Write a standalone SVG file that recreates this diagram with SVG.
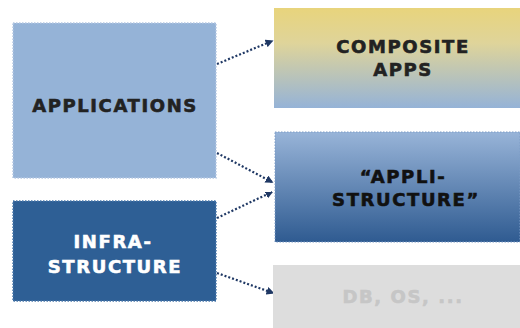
<svg xmlns="http://www.w3.org/2000/svg" width="520" height="328" viewBox="0 0 520 328">
<style>
.lbl{font-family:"DejaVu Sans","Liberation Sans",sans-serif;font-weight:bold;font-size:18px;letter-spacing:1.6px;text-anchor:middle;stroke-width:0.6px}
.dark{fill:#222222;stroke:#222222}
.white{fill:#ffffff;stroke:#ffffff}
.conn{stroke:#1f3864;stroke-width:2.2;stroke-dasharray:2 2;fill:none;marker-end:url(#ah)}
</style>
<defs>
<marker id="ah" viewBox="0 0 10 10" refX="8" refY="5" markerWidth="8" markerHeight="8" orient="auto" markerUnits="userSpaceOnUse">
<path d="M0,0 L10,5 L0,10 z" fill="#1f3864"/>
</marker>
<linearGradient id="gComp" x1="0" y1="0" x2="0" y2="1">
<stop offset="0" stop-color="#e8d47c"/>
<stop offset="0.35" stop-color="#dfd49a"/>
<stop offset="1" stop-color="#95b3d7"/>
</linearGradient>
<linearGradient id="gAppli" x1="0" y1="0" x2="0" y2="1">
<stop offset="0" stop-color="#98b4d8"/>
<stop offset="1" stop-color="#2f5b91"/>
</linearGradient>
</defs>
<rect width="520" height="328" fill="#ffffff"/>
<g id="connectors">
<path class="conn" d="M217,64 L272,41"/>
<path class="conn" d="M217,153 L272,182"/>
<path class="conn" d="M217,218 L272,192"/>
<path class="conn" d="M217,273 L273,293"/>
</g>
<g id="applications">
<rect x="13" y="23" width="203" height="155" fill="#95b3d7" stroke="#b4c8e2" stroke-width="1.5" stroke-dasharray="1.5 1.5"/>
<text class="lbl dark" x="115" y="112">APPLICATIONS</text>
</g>
<g id="infrastructure">
<rect x="13" y="201" width="203" height="100" fill="#2e5f95" stroke="#4a78aa" stroke-width="1.5" stroke-dasharray="1.5 1.5"/>
<text class="lbl white" x="113" y="248">INFRA-</text>
<text class="lbl white" x="115" y="273">STRUCTURE</text>
</g>
<g id="composite">
<rect x="274" y="8" width="246" height="100" fill="url(#gComp)"/>
<text class="lbl dark" x="403" y="53">COMPOSITE</text>
<text class="lbl dark" x="403" y="76">APPS</text>
</g>
<g id="applistructure">
<rect x="275" y="132" width="245" height="110" fill="url(#gAppli)" stroke="#7c9cc6" stroke-width="1" stroke-dasharray="1.5 1.5"/>
<text class="lbl" fill="#111111" stroke="#111111" x="403" y="183">“APPLI-</text>
<text class="lbl" fill="#111111" stroke="#111111" x="406" y="206">STRUCTURE”</text>
</g>
<g id="dbos">
<rect x="273" y="265" width="247" height="63" fill="#dddddd"/>
<text class="lbl" fill="#c6c6c6" stroke="#c6c6c6" x="403" y="303">DB, OS, ...</text>
</g>
</svg>
